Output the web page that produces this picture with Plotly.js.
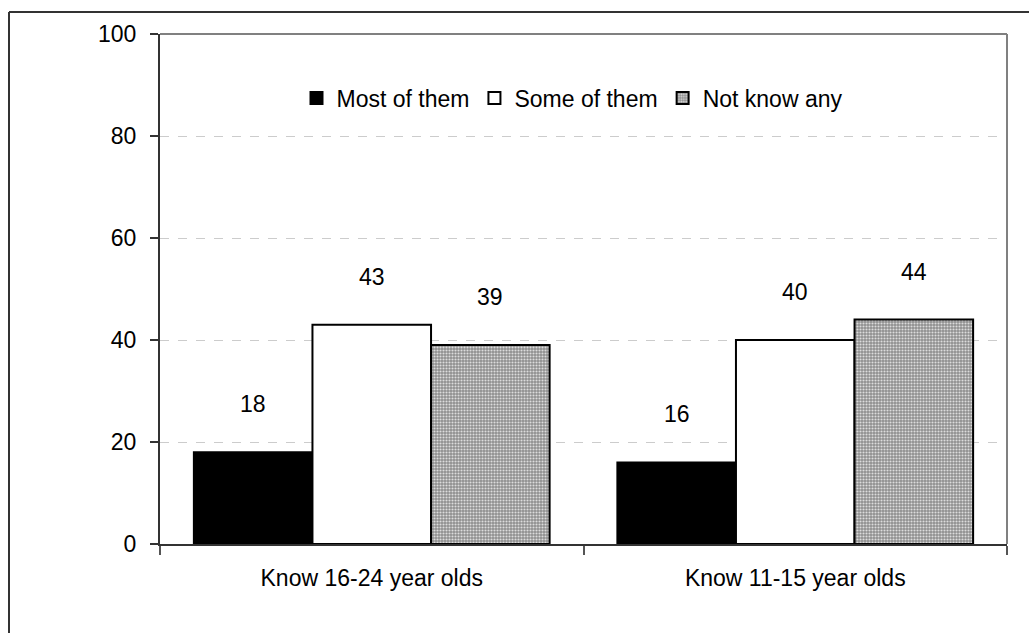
<!DOCTYPE html>
<html>
<head>
<meta charset="utf-8">
<script src="https://cdn.plot.ly/plotly-3.0.1.min.js"></script>
<style>html,body{margin:0;padding:0;background:#fff;}#chart{width:1029px;height:633px;}</style>
</head>
<body>
<div id="chart"></div>
<script>
const categories = ["Know 16-24 year olds", "Know 11-15 year olds"];
const seriesNames = ["Most of them", "Some of them", "Not know any"];
const mostOfThem = [18, 16];
const someOfThem = [43, 40];
const notKnowAny = [39, 44];
const yTicks = [0, 20, 40, 60, 80, 100];

const W = 1029, H = 633;
const M = {l: 160, r: 22, t: 34, b: 89};
const plotW = W - M.l - M.r, plotH = H - M.t - M.b;
const bargap = 0.16;
const FONT = "Liberation Sans, Arial, sans-serif";
const fs = 23;

const values = [mostOfThem, someOfThem, notKnowAny];
const traces = [
  {type: 'bar', name: seriesNames[0], x: categories, y: mostOfThem,
   marker: {color: '#000000', line: {color: '#000000', width: 2}}},
  {type: 'bar', name: seriesNames[1], x: categories, y: someOfThem,
   marker: {color: '#ffffff', line: {color: '#000000', width: 2}}},
  {type: 'bar', name: seriesNames[2], x: categories, y: notKnowAny,
   marker: {color: '#9a9a9a', line: {color: '#000000', width: 2},
            pattern: {shape: '.', fgcolor: '#dcdcdc', bgcolor: '#8f8f8f', size: 3, solidity: 0.4}}}
];

const catW = plotW / categories.length;
const barW = catW * (1 - bargap) / seriesNames.length;
const annotations = [];
values.forEach((vals, si) => {
  vals.forEach((v, ci) => {
    annotations.push({
      x: categories[ci], y: v, xref: 'x', yref: 'y',
      text: String(v), showarrow: false,
      xshift: (si - 1) * barW, yshift: 48,
      font: {family: FONT, size: fs, color: '#000'}
    });
  });
});

const px2x = p => (p - M.l) / plotW;
const py2y = p => (H - M.b - p) / plotH;

const shapes = [
  {type: 'line', xref: 'paper', yref: 'paper', x0: 0, x1: 1, y0: 1, y1: 1, line: {color: '#808080', width: 2}},
  {type: 'line', xref: 'paper', yref: 'paper', x0: 1, x1: 1, y0: 0, y1: 1, line: {color: '#808080', width: 2}},
  {type: 'line', xref: 'paper', yref: 'paper', x0: px2x(9), x1: px2x(1040), y0: py2y(12), y1: py2y(12), line: {color: '#333333', width: 2}},
  {type: 'line', xref: 'paper', yref: 'paper', x0: px2x(9), x1: px2x(9), y0: py2y(12), y1: py2y(650), line: {color: '#333333', width: 2}}
];

const layout = {
  width: W, height: H,
  margin: M,
  paper_bgcolor: '#ffffff', plot_bgcolor: '#ffffff',
  barmode: 'group', bargap: bargap, bargroupgap: 0,
  font: {family: FONT, size: fs, color: '#000'},
  showlegend: true,
  legend: {orientation: 'h', x: px2x(572), xanchor: 'center', y: py2y(98), yanchor: 'middle',
           font: {family: FONT, size: fs, color: '#000'}, bgcolor: 'rgba(0,0,0,0)',
           itemwidth: 30, tracegroupgap: 0},
  xaxis: {type: 'category', showgrid: false, zeroline: false,
          showline: true, linecolor: '#333333', linewidth: 2,
          ticks: 'outside', tickson: 'boundaries', ticklen: 9, tickcolor: '#555555', tickwidth: 2,
          ticklabelstandoff: 12,
          tickfont: {family: FONT, size: fs, color: '#000'}, fixedrange: true},
  yaxis: {range: [0, 100], tickvals: yTicks, ticktext: yTicks.map(String),
          showgrid: true, gridcolor: '#cccccc', griddash: 'dash', gridwidth: 1,
          zeroline: false, showline: true, linecolor: '#333333', linewidth: 2,
          ticks: 'outside', ticklen: 8, tickcolor: '#333333', tickwidth: 2,
          ticklabelstandoff: 9,
          tickfont: {family: FONT, size: fs, color: '#000'}, fixedrange: true},
  shapes: shapes,
  annotations: annotations
};

Plotly.newPlot('chart', traces, layout, {displayModeBar: false, staticPlot: true});
</script>
</body>
</html>
